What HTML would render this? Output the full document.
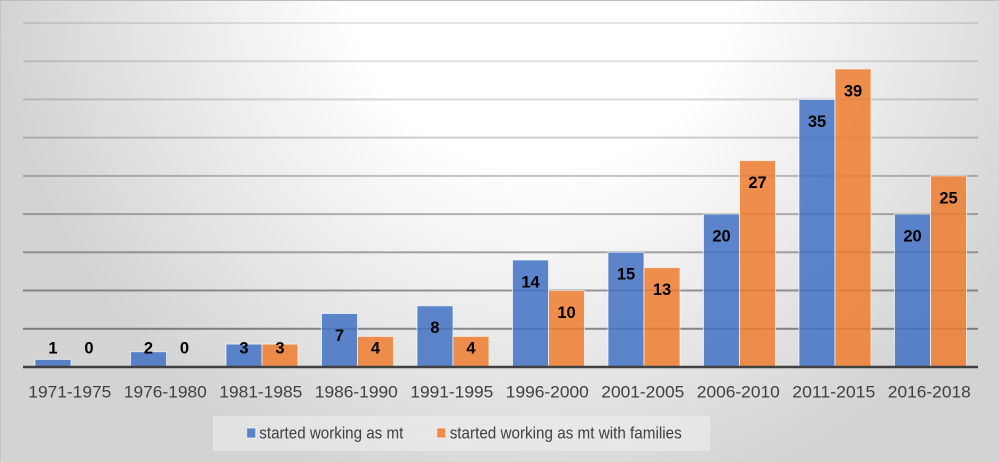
<!DOCTYPE html>
<html><head><meta charset="utf-8"><style>
html,body{margin:0;padding:0;}
body{width:999px;height:462px;overflow:hidden;}
svg{display:block;}
</style></head><body>
<svg width="999" height="462" viewBox="0 0 999 462" xmlns="http://www.w3.org/2000/svg" font-family="'Liberation Sans', sans-serif">
<defs>
<radialGradient id="bg" cx="540" cy="-20" r="540" gradientUnits="userSpaceOnUse">
<stop offset="0" stop-color="#ffffff"/>
<stop offset="0.35" stop-color="#ffffff"/>
<stop offset="1" stop-color="#d3d3d3"/>
</radialGradient>
</defs>
<rect x="0" y="0" width="999" height="462" fill="url(#bg)"/>
<rect x="0" y="0" width="999" height="1" fill="#bdbdbd"/>
<rect x="0" y="0" width="1" height="462" fill="#c4c4c4"/>

<!-- gridlines -->
<g fill="#000">
<rect x="23" y="22" width="955" height="2" fill-opacity="0.10"/>
<rect x="23" y="60.2" width="955" height="2" fill-opacity="0.12"/>
<rect x="23" y="98.4" width="955" height="2" fill-opacity="0.15"/>
<rect x="23" y="136.6" width="955" height="2" fill-opacity="0.19"/>
<rect x="23" y="174.9" width="955" height="2" fill-opacity="0.23"/>
<rect x="23" y="213.1" width="955" height="2" fill-opacity="0.28"/>
<rect x="23" y="251.3" width="955" height="2" fill-opacity="0.33"/>
<rect x="23" y="289.5" width="955" height="2" fill-opacity="0.38"/>
<rect x="23" y="327.8" width="955" height="2" fill-opacity="0.42"/>
</g>

<!-- bars -->
<g stroke="#ffffff" stroke-opacity="0.65" stroke-width="1">
<g fill="#4472c4" fill-opacity="0.86">
<rect x="35" y="359.4" width="36" height="7.6"/>
<rect x="130.5" y="351.7" width="36" height="15.3"/>
<rect x="226" y="344.1" width="36" height="22.9"/>
<rect x="321.5" y="313.5" width="36" height="53.5"/>
<rect x="417" y="305.8" width="36" height="61.2"/>
<rect x="512.5" y="260" width="36" height="107"/>
<rect x="608" y="252.3" width="36" height="114.7"/>
<rect x="703.5" y="214.1" width="36" height="152.9"/>
<rect x="799" y="99.5" width="36" height="267.5"/>
<rect x="894.5" y="214.1" width="36" height="152.9"/>
</g>
<g fill="#ed7d31" fill-opacity="0.86">
<rect x="262" y="344.1" width="36" height="22.9"/>
<rect x="357.5" y="336.4" width="36" height="30.6"/>
<rect x="453" y="336.4" width="36" height="30.6"/>
<rect x="548.5" y="290.6" width="36" height="76.4"/>
<rect x="644" y="267.6" width="36" height="99.4"/>
<rect x="739.5" y="160.6" width="36" height="206.4"/>
<rect x="835" y="68.9" width="36" height="298.1"/>
<rect x="930.5" y="175.9" width="36" height="191.1"/>
</g>
</g>

<!-- baseline -->
<rect x="23" y="365.75" width="955" height="2.5" fill="#404040"/>

<!-- data labels -->
<g font-size="16.5" font-weight="bold" fill="#000" text-anchor="middle">
<text x="53" y="353.4">1</text>
<text x="89" y="353.4">0</text>
<text x="148.5" y="353.4">2</text>
<text x="184.5" y="353.4">0</text>
<text x="244" y="353.4">3</text>
<text x="280" y="353.4">3</text>
<text x="339.5" y="340.9">7</text>
<text x="375.5" y="353.4">4</text>
<text x="435" y="333.2">8</text>
<text x="471" y="353.4">4</text>
<text x="530.5" y="287.4">14</text>
<text x="566.5" y="318">10</text>
<text x="626" y="279.7">15</text>
<text x="662" y="295">13</text>
<text x="721.5" y="241.5">20</text>
<text x="757.5" y="188">27</text>
<text x="817" y="126.9">35</text>
<text x="853" y="96.3">39</text>
<text x="912.5" y="241.5">20</text>
<text x="948.5" y="203.3">25</text>
</g>

<!-- category labels -->
<g font-size="16.8" fill="#404040" text-anchor="middle">
<text x="69.8" y="397.3" textLength="83" lengthAdjust="spacingAndGlyphs">1971-1975</text>
<text x="165.3" y="397.3" textLength="83" lengthAdjust="spacingAndGlyphs">1976-1980</text>
<text x="260.8" y="397.3" textLength="83" lengthAdjust="spacingAndGlyphs">1981-1985</text>
<text x="356.3" y="397.3" textLength="83" lengthAdjust="spacingAndGlyphs">1986-1990</text>
<text x="451.8" y="397.3" textLength="83" lengthAdjust="spacingAndGlyphs">1991-1995</text>
<text x="547.3" y="397.3" textLength="83" lengthAdjust="spacingAndGlyphs">1996-2000</text>
<text x="642.8" y="397.3" textLength="83" lengthAdjust="spacingAndGlyphs">2001-2005</text>
<text x="738.3" y="397.3" textLength="83" lengthAdjust="spacingAndGlyphs">2006-2010</text>
<text x="833.8" y="397.3" textLength="83" lengthAdjust="spacingAndGlyphs">2011-2015</text>
<text x="929.3" y="397.3" textLength="83" lengthAdjust="spacingAndGlyphs">2016-2018</text>
</g>

<!-- legend -->
<rect x="213" y="416" width="497" height="35" fill="#f4f4f4" fill-opacity="0.45"/>
<rect x="246.7" y="428" width="9" height="10" fill="#4472c4" fill-opacity="0.86" stroke="#fff" stroke-opacity="0.65" stroke-width="1"/>
<rect x="436.7" y="428" width="9" height="10" fill="#ed7d31" fill-opacity="0.86" stroke="#fff" stroke-opacity="0.65" stroke-width="1"/>
<g font-size="16.8" fill="#404040">
<text x="259.3" y="438.7" textLength="144" lengthAdjust="spacingAndGlyphs">started working as mt</text>
<text x="449.7" y="438.7" textLength="232" lengthAdjust="spacingAndGlyphs">started working as mt with families</text>
</g>
</svg>
</body></html>
